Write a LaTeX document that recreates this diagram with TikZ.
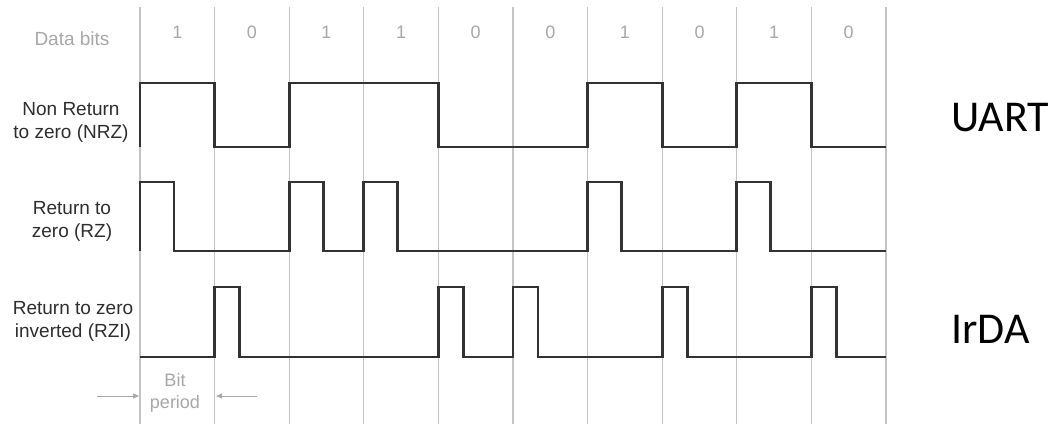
\documentclass[tikz,border=0pt]{standalone}
\usepackage{fontspec}
\setmainfont{Liberation Sans}
\newfontfamily\calibfont{Carlito}
\usetikzlibrary{arrows.meta}
\definecolor{gridgray}{HTML}{C4C4C4}
\definecolor{wavecol}{HTML}{333333}
\definecolor{labcol}{HTML}{2E2E2E}
\definecolor{bitgray}{HTML}{A8A8A8}
\begin{document}
\begin{tikzpicture}[x=1pt,y=-1pt,
  gridline/.style={draw=gridgray, line width=1.3pt},
  wave/.style={draw=wavecol, line width=2.8pt, line join=miter, line cap=butt},
  lbl/.style={font=\fontsize{19}{23}\selectfont, text=labcol, align=center, inner sep=0pt},
  bitlbl/.style={font=\fontsize{18}{22}\selectfont, text=bitgray, inner sep=0pt},
  periodlbl/.style={font=\fontsize{18}{22}\selectfont, text=bitgray, align=center, inner sep=0pt},
  biglbl/.style={font=\calibfont\fontsize{44}{50}\selectfont, text=black, inner sep=0pt},
  periodarrow/.style={draw=bitgray, line width=1pt, -{Triangle[length=6pt,width=5pt]}}
]
\fill[white] (0,0) rectangle (1055,424);
\useasboundingbox (0,0) rectangle (1055,424);

% grid lines
\foreach \i in {0,...,10} {
  \draw[gridline] ({140+74.6*\i},7) -- ({140+74.6*\i},424);
}

% data bit labels
\node[lbl, text=bitgray] (databits) at (72,39) {Data bits};
\node[bitlbl] (b0) at (177.3,32) {1};
\node[bitlbl] (b1) at (251.9,32) {0};
\node[bitlbl] (b2) at (326.5,32) {1};
\node[bitlbl] (b3) at (401.1,32) {1};
\node[bitlbl] (b4) at (475.7,32) {0};
\node[bitlbl] (b5) at (550.3,32) {0};
\node[bitlbl] (b6) at (624.9,32) {1};
\node[bitlbl] (b7) at (699.5,32) {0};
\node[bitlbl] (b8) at (774.1,32) {1};
\node[bitlbl] (b9) at (848.7,32) {0};

% row labels
\node[lbl] (nrzlbl) at (71,122) {Non Return\\to zero (NRZ)};
\node[lbl] (rzlbl) at (72,221) {Return to\\zero (RZ)};
\node[lbl] (rzilbl) at (73,321) {Return to zero\\inverted (RZI)};

% NRZ
\draw[wave] (140,147) -- (140,83) -- (214.6,83) -- (214.6,147) -- (289.2,147)
  -- (289.2,83) -- (438.4,83) -- (438.4,147) -- (587.6,147) -- (587.6,83)
  -- (662.2,83) -- (662.2,147) -- (736.8,147) -- (736.8,83) -- (811.4,83)
  -- (811.4,147) -- (886,147);

% RZ
\draw[wave] (140,251) -- (140,182) -- (174,182) -- (174,251) -- (289.2,251)
  -- (289.2,182) -- (323.2,182) -- (323.2,251) -- (363.8,251) -- (363.8,182)
  -- (397.8,182) -- (397.8,251) -- (587.6,251) -- (587.6,182) -- (621.6,182)
  -- (621.6,251) -- (736.8,251) -- (736.8,182) -- (770.8,182) -- (770.8,251)
  -- (886,251);

% RZI
\draw[wave] (140,357) -- (214.6,357) -- (214.6,287) -- (239.6,287) -- (239.6,357)
  -- (438.4,357) -- (438.4,287) -- (463.4,287) -- (463.4,357) -- (513,357)
  -- (513,287) -- (538,287) -- (538,357) -- (662.2,357) -- (662.2,287)
  -- (687.2,287) -- (687.2,357) -- (811.4,357) -- (811.4,287) -- (836.4,287)
  -- (836.4,357) -- (886,357);

% bit period
\node[periodlbl] (bitperiod) at (175,393) {Bit\\period};
\coordinate (pl0) at (97,396);
\coordinate (pl1) at (139,396);
\coordinate (pr0) at (257,396);
\coordinate (pr1) at (216,396);
\draw[periodarrow] (pl0) -- (pl1);
\draw[periodarrow] (pr0) -- (pr1);

% right labels
\node[biglbl, anchor=base west] (uart) at (951,131) {UART};
\node[biglbl, anchor=base west] (irda) at (951,343) {IrDA};
\end{tikzpicture}
\end{document}
